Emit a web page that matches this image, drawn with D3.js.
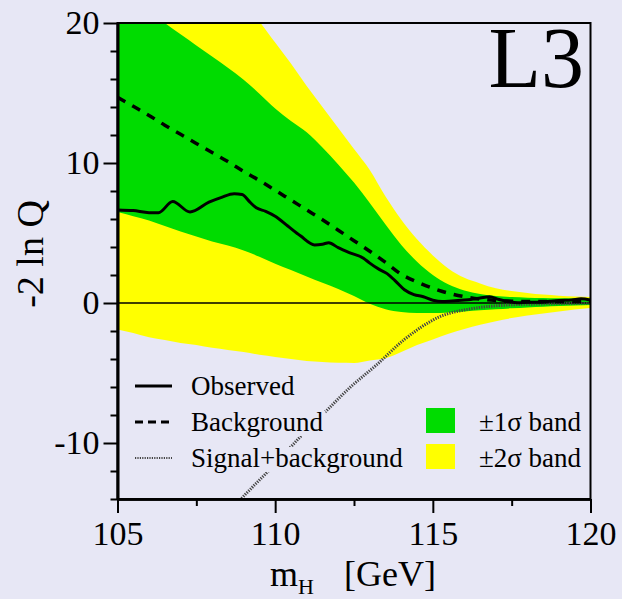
<!DOCTYPE html>
<html>
<head>
<meta charset="utf-8">
<script src="https://cdn.jsdelivr.net/npm/d3@7"></script>
<style>
  html, body { margin: 0; padding: 0; background: #e7e7f5; }
  svg { display: block; }
  text { font-family: "Liberation Serif", "Times New Roman", serif; fill: #000; }
</style>
</head>
<body>
<svg id="chart" width="622" height="599"></svg>
<script>
// Higgs mass grid (GeV) for the expected bands and the background-only expectation
const massGrid = [105, 105.5, 106, 106.5, 107, 107.5, 108, 108.5, 109, 109.5, 110, 110.5,
  111, 111.5, 112, 112.5, 113, 113.5, 114, 114.5, 115, 115.5, 116, 116.5, 117, 117.5,
  118, 118.5, 119, 119.5, 120];

// +2 sigma edge
const band2Up = [31, 30, 29, 28, 27, 25.5, 24.2, 22.7, 21.4, 20.1, 18.6, 17.1,
  15.5, 14.0, 12.5, 11.0, 9.5, 7.6, 5.95, 4.55, 3.4, 2.45, 1.8, 1.4, 1.05, 0.85,
  0.72, 0.6, 0.52, 0.47, 0.43];
// +1 sigma edge
const band1Up = [22.5, 21.7, 20.9, 20.0, 19.2, 18.4, 17.6, 16.8, 15.95, 14.95, 13.9, 13.0,
  12.2, 11.1, 9.9, 8.6, 7.15, 5.6, 4.15, 2.95, 2.0, 1.32, 0.9, 0.65, 0.5, 0.42,
  0.38, 0.36, 0.34, 0.33, 0.32];
// -1 sigma edge
const band1Lo = [6.5, 6.2, 5.9, 5.5, 5.1, 4.75, 4.4, 4.1, 3.75, 3.3, 2.8, 2.35,
  1.9, 1.45, 1.0, 0.5, -0.05, -0.45, -0.65, -0.72, -0.72, -0.68, -0.6, -0.52, -0.45, -0.38,
  -0.32, -0.27, -0.22, -0.18, -0.15];
// -2 sigma edge
const band2Lo = [-1.9, -2.15, -2.45, -2.65, -2.85, -3.0, -3.2, -3.35, -3.5, -3.7, -3.85, -4.0,
  -4.15, -4.22, -4.27, -4.28, -4.1, -3.95, -3.5, -3.0, -2.6, -2.2, -1.85, -1.55, -1.3, -1.08,
  -0.9, -0.75, -0.6, -0.47, -0.36];
// background-only expectation
const backgroundExp = [14.7, 14.05, 13.4, 12.7, 12.05, 11.4, 10.75, 10.1, 9.4, 8.75, 8.05, 7.35,
  6.65, 5.95, 5.2, 4.45, 3.7, 2.9, 2.05, 1.5, 1.05, 0.7, 0.45, 0.28, 0.18, 0.13,
  0.1, 0.1, 0.1, 0.1, 0.1];

// signal+background expectation
const sbMass = [108.5, 109, 110, 110.8, 111.65, 112.4, 113.2, 114.1, 115.2, 116.3, 117.4, 118.4, 120];
const sbValue = [-15.0, -13.8, -11.5, -9.55, -7.64, -5.98, -4.45, -2.6, -1.0, -0.38, -0.14, -0.07, -0.02];

// observed -2 ln Q
const obsMass = [105.0, 105.5, 106.0, 106.3, 106.75, 107.3, 107.9, 108.3, 108.7, 108.95, 109.2, 109.4,
  109.7, 110.0, 110.4, 110.8, 111.25, 111.5, 111.7, 112.0, 112.35, 112.8, 113.0, 113.3, 113.55,
  113.8, 114.1, 114.4, 114.7, 115.0, 115.3, 115.6, 115.9, 116.2, 116.5, 116.8, 117.1, 117.4,
  117.7, 118.0, 118.3, 118.7, 119.0, 119.4, 119.7, 120.0];
const obsValue = [6.65, 6.6, 6.45, 6.45, 7.25, 6.5, 7.2, 7.55, 7.8, 7.75, 7.2, 6.8,
  6.55, 6.2, 5.5, 4.8, 4.15, 4.2, 4.3, 3.95, 3.6, 3.2, 2.85, 2.4, 2.1,
  1.6, 0.95, 0.6, 0.45, 0.2, 0.1, 0.15, 0.2, 0.25, 0.35, 0.45, 0.25, 0.1,
  0.02, 0.05, 0.05, 0.12, 0.18, 0.22, 0.3, 0.2];

const xTickValues = [105, 110, 115, 120];
const xTickLabels = ["105", "110", "115", "120"];
const xMinorTicks = [107.5, 112.5, 117.5];
const yTickValues = [-10, 0, 10, 20];
const yTickLabels = ["-10", "0", "10", "20"];
const yMinorTicks = [-14, -12, -8, -6, -4, -2, 2, 4, 6, 8, 12, 14, 16, 18];

const legendLines = ["Observed", "Background", "Signal+background"];
const legendBands = ["\u00b11\u03c3 band", "\u00b12\u03c3 band"];

const colors = { bg: "#e7e7f5", green: "#00dc00", yellow: "#ffff00" };

const svg = d3.select("#chart");
const x = d3.scaleLinear().domain([105, 120]).range([117.5, 590.5]);
const y = d3.scaleLinear().domain([-14, 20]).range([499, 23]);

svg.append("rect").attr("width", 622).attr("height", 599).attr("fill", colors.bg);

svg.append("clipPath").attr("id", "plotClip")
  .append("rect")
  .attr("x", x(105)).attr("y", y(20))
  .attr("width", x(120) - x(105)).attr("height", y(-14) - y(20));

const plot = svg.append("g").attr("clip-path", "url(#plotClip)");

const bandArea = (lo, hi) => d3.area()
  .x((d, i) => x(massGrid[i]))
  .y0((d, i) => y(lo[i]))
  .y1((d, i) => y(hi[i]))
  .curve(d3.curveMonotoneX)(massGrid);

plot.append("path").attr("d", bandArea(band2Lo, band2Up)).attr("fill", colors.yellow);
plot.append("path").attr("d", bandArea(band1Lo, band1Up)).attr("fill", colors.green);

// zero reference line
plot.append("line")
  .attr("x1", x(105)).attr("x2", x(120))
  .attr("y1", y(0)).attr("y2", y(0))
  .attr("stroke", "#000").attr("stroke-width", 1.5);

const lineOf = (xs, ys) => d3.line()
  .x((d, i) => x(xs[i]))
  .y((d, i) => y(ys[i]))
  .curve(d3.curveMonotoneX)(xs);

plot.append("path").attr("d", lineOf(sbMass, sbValue))
  .attr("fill", "none").attr("stroke", "#444").attr("stroke-width", 3)
  .attr("stroke-dasharray", "1.3,1.2");

plot.append("path").attr("d", lineOf(massGrid, backgroundExp))
  .attr("fill", "none").attr("stroke", "#000").attr("stroke-width", 3.5)
  .attr("stroke-dasharray", "9,8");

plot.append("path").attr("d", lineOf(obsMass, obsValue))
  .attr("fill", "none").attr("stroke", "#000").attr("stroke-width", 3)
  .attr("stroke-linejoin", "round");

// frame
svg.append("rect")
  .attr("x", x(105)).attr("y", y(20))
  .attr("width", x(120) - x(105)).attr("height", y(-14) - y(20))
  .attr("fill", "none").attr("stroke", "#000").attr("stroke-width", 2);

// axes
const styleAxis = g => {
  g.select(".domain").attr("stroke", "#000").attr("stroke-width", 2.6);
  g.selectAll(".tick line").attr("stroke", "#000").attr("stroke-width", 2);
  g.selectAll(".tick text").style("font-family", '"Liberation Serif", serif').attr("fill", "#000");
};

svg.append("g").attr("transform", `translate(${x(105)},0)`)
  .call(d3.axisLeft(y).tickValues(yMinorTicks).tickSize(7).tickSizeOuter(0).tickFormat(""))
  .call(styleAxis);
svg.append("g").attr("transform", `translate(${x(105)},0)`)
  .call(d3.axisLeft(y).tickValues(yTickValues).tickSize(14).tickSizeOuter(0).tickPadding(4)
    .tickFormat((d, i) => yTickLabels[i]))
  .call(styleAxis)
  .selectAll(".tick text").attr("font-size", 34);

svg.append("g").attr("transform", `translate(0,${y(-14)})`)
  .call(d3.axisBottom(x).tickValues(xMinorTicks).tickSize(7).tickSizeOuter(0).tickFormat(""))
  .call(styleAxis);
svg.append("g").attr("transform", `translate(0,${y(-14)})`)
  .call(d3.axisBottom(x).tickValues(xTickValues).tickSize(14).tickSizeOuter(0).tickPadding(8)
    .tickFormat((d, i) => xTickLabels[i]))
  .call(styleAxis)
  .selectAll(".tick text").attr("font-size", 34);

// axis titles
svg.append("text")
  .attr("transform", "translate(43,254) rotate(-90)")
  .attr("text-anchor", "middle").attr("font-size", 38)
  .text("-2 ln Q");

const xt = svg.append("text").attr("x", 270).attr("y", 586).attr("font-size", 36);
xt.append("tspan").text("m");
xt.append("tspan").attr("font-size", 22).attr("dy", 8).text("H");
xt.append("tspan").attr("x", 344).attr("dy", -8).text("[GeV]");

// experiment label
svg.append("text").attr("x", 584).attr("y", 87)
  .attr("text-anchor", "end").attr("font-size", 86).text("L3");

// legend: line entries
const legendRowY = [395, 431, 467];
const legendStyles = [
  { stroke: "#000", width: 3, dash: null },
  { stroke: "#000", width: 3, dash: "8,5" },
  { stroke: "#444", width: 2, dash: "1.2,1.2" }
];
legendLines.forEach((label, i) => {
  const by = legendRowY[i];
  const t = svg.append("text").attr("x", 191).attr("y", by).attr("font-size", 27).text(label);
  const bb = t.node().getBBox();
  svg.insert("rect", () => t.node())
    .attr("x", bb.x - 2).attr("y", by - 20).attr("width", bb.width + 4).attr("height", 25)
    .attr("fill", colors.bg);
  svg.append("line")
    .attr("x1", 135).attr("x2", 172).attr("y1", by - 9).attr("y2", by - 9)
    .attr("stroke", legendStyles[i].stroke).attr("stroke-width", legendStyles[i].width)
    .attr("stroke-dasharray", legendStyles[i].dash);
});

// legend: band entries
const bandFill = [colors.green, colors.yellow];
legendBands.forEach((label, i) => {
  const by = legendRowY[i + 1];
  svg.append("rect").attr("x", 426).attr("y", by - 23).attr("width", 29).attr("height", 25)
    .attr("fill", bandFill[i]);
  svg.append("text").attr("x", 479).attr("y", by).attr("font-size", 27).text(label);
});
</script>
</body>
</html>
